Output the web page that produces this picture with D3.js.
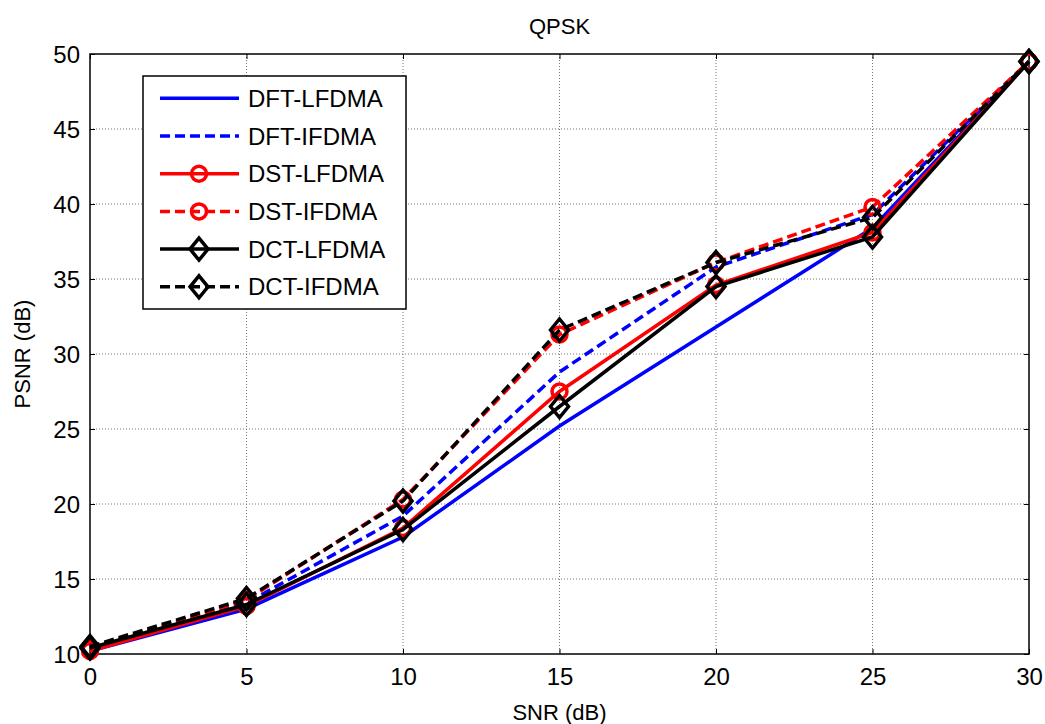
<!DOCTYPE html>
<html>
<head>
<meta charset="utf-8">
<script src="https://cdn.jsdelivr.net/npm/d3@7"></script>
<style>
  body { margin: 0; background: #fff; }
  text { font-family: Arial, "Liberation Sans", sans-serif; fill: #000; }
</style>
</head>
<body>
<div id="chart"></div>
<script>
// data
var snr = [0, 5, 10, 15, 20, 25, 30];
var dftL = [10.2, 13.0, 17.8, 25.2, 31.8, 38.4, 49.5];
var dftI = [10.4, 13.4, 19.2, 28.8, 35.8, 39.3, 49.5];
var dstL = [10.2, 13.2, 18.4, 27.5, 34.6, 38.1, 49.5];
var dstI = [10.4, 13.6, 20.3, 31.3, 36.1, 39.8, 49.5];
var dctL = [10.4, 13.3, 18.3, 26.5, 34.5, 37.8, 49.5];
var dctI = [10.5, 13.7, 20.2, 31.6, 36.1, 39.1, 49.5];
var names = ["DFT-LFDMA", "DFT-IFDMA", "DST-LFDMA", "DST-IFDMA", "DCT-LFDMA", "DCT-IFDMA"];
var xTicks = [0, 5, 10, 15, 20, 25, 30];
var yTicks = [10, 15, 20, 25, 30, 35, 40, 45, 50];

var series = [
  {name: names[0], vals: dftL, color: "#0000ff", dash: null, marker: null},
  {name: names[1], vals: dftI, color: "#0000ff", dash: "10,5", marker: null},
  {name: names[2], vals: dstL, color: "#ff0000", dash: null, marker: "circle"},
  {name: names[3], vals: dstI, color: "#ff0000", dash: "10,5", marker: "circle"},
  {name: names[4], vals: dctL, color: "#000000", dash: null, marker: "diamond"},
  {name: names[5], vals: dctI, color: "#000000", dash: "10,5", marker: "diamond"}
];

var W = 1045, H = 724;
var pLeft = 90, pTop = 54, pRight = 1029, pBot = 654;

var svg = d3.select("#chart").append("svg")
    .attr("width", W)
    .attr("height", H);

var x = d3.scaleLinear().domain([0, 30]).range([pLeft, pRight]);
var y = d3.scaleLinear().domain([10, 50]).range([pBot, pTop]);

// grid (dotted, like matlab's grid on)
var grid = svg.append("g").attr("class", "grid");
grid.selectAll(".gx").data(xTicks.slice(1, -1)).enter().append("line")
    .attr("x1", function(d) { return x(d); })
    .attr("x2", function(d) { return x(d); })
    .attr("y1", pTop).attr("y2", pBot)
    .style("stroke", "#777").style("stroke-width", 1).style("stroke-dasharray", "1,2");
grid.selectAll(".gy").data(yTicks.slice(1, -1)).enter().append("line")
    .attr("y1", function(d) { return y(d); })
    .attr("y2", function(d) { return y(d); })
    .attr("x1", pLeft).attr("x2", pRight)
    .style("stroke", "#777").style("stroke-width", 1).style("stroke-dasharray", "1,2");

// axes (ticks inside, box on)
var xAxis = d3.axisBottom(x).tickValues(xTicks).tickSize(-5).tickPadding(14);
var yAxis = d3.axisLeft(y).tickValues(yTicks).tickSize(-5).tickPadding(10);
var gx = svg.append("g").attr("transform", "translate(0," + pBot + ")").call(xAxis);
var gy = svg.append("g").attr("transform", "translate(" + pLeft + ",0)").call(yAxis);
var gx2 = svg.append("g").attr("transform", "translate(0," + pTop + ")")
    .call(d3.axisTop(x).tickValues(xTicks).tickSize(-5).tickFormat(""));
var gy2 = svg.append("g").attr("transform", "translate(" + pRight + ",0)")
    .call(d3.axisRight(y).tickValues(yTicks).tickSize(-5).tickFormat(""));
[gx, gy, gx2, gy2].forEach(function(g) {
  g.select(".domain").remove();
  g.selectAll("line").style("stroke", "#000");
  g.selectAll("text").style("font-size", "24px").style("font-family", "Arial, 'Liberation Sans', sans-serif");
});
gx.selectAll("text").attr("dy", "0.71em");
gy.selectAll("text").attr("dy", "0.36em");

svg.append("rect")
    .attr("x", pLeft).attr("y", pTop)
    .attr("width", pRight - pLeft).attr("height", pBot - pTop)
    .style("fill", "none").style("stroke", "#000").style("stroke-width", 1.5);

// lines
var line = d3.line()
    .x(function(d, i) { return x(snr[i]); })
    .y(function(d) { return y(d); });

function drawMarker(g, type, color) {
  if (type === "circle") {
    g.append("circle").attr("r", 7.5)
      .style("fill", "none").style("stroke", color).style("stroke-width", 3.5);
  } else if (type === "diamond") {
    g.append("path").attr("d", "M0,-11L9,0L0,11L-9,0Z")
      .style("fill", "none").style("stroke", color).style("stroke-width", 3.5);
  }
}

series.forEach(function(s) {
  svg.append("path")
    .datum(s.vals)
    .attr("d", line)
    .style("fill", "none")
    .style("stroke", s.color)
    .style("stroke-width", 3.5)
    .style("stroke-dasharray", s.dash);
  if (s.marker) {
    s.vals.forEach(function(v, i) {
      var m = svg.append("g").attr("transform", "translate(" + x(snr[i]) + "," + y(v) + ")");
      drawMarker(m, s.marker, s.color);
    });
  }
});

// title and labels
svg.append("text").attr("x", (pLeft + pRight) / 2).attr("y", 34)
    .attr("text-anchor", "middle").style("font-size", "22px").text("QPSK");
svg.append("text").attr("x", (pLeft + pRight) / 2).attr("y", 720)
    .attr("text-anchor", "middle").style("font-size", "22px").text("SNR (dB)");
svg.append("text").attr("transform", "translate(30," + ((pTop + pBot) / 2) + ") rotate(-90)")
    .attr("text-anchor", "middle").style("font-size", "22px").text("PSNR (dB)");

// legend
var lg = svg.append("g").attr("transform", "translate(143,76)");
lg.append("rect").attr("width", 263).attr("height", 233)
    .style("fill", "#fff").style("stroke", "#000").style("stroke-width", 1.5);
var rowH = 37.7;
var item = lg.selectAll(".item").data(series).enter().append("g")
    .attr("class", "item")
    .attr("transform", function(d, i) { return "translate(0," + (22.3 + i * rowH) + ")"; });
item.append("line")
    .attr("x1", 17).attr("x2", 96)
    .style("stroke", function(d) { return d.color; })
    .style("stroke-width", 3.5)
    .style("stroke-dasharray", function(d) { return d.dash; });
item.each(function(d) {
  if (d.marker) {
    var m = d3.select(this).append("g").attr("transform", "translate(56,0)");
    drawMarker(m, d.marker, d.color);
  }
});
item.append("text")
    .attr("x", 105).attr("dy", "0.36em")
    .style("font-size", "24px")
    .text(function(d) { return d.name; });
</script>
</body>
</html>
